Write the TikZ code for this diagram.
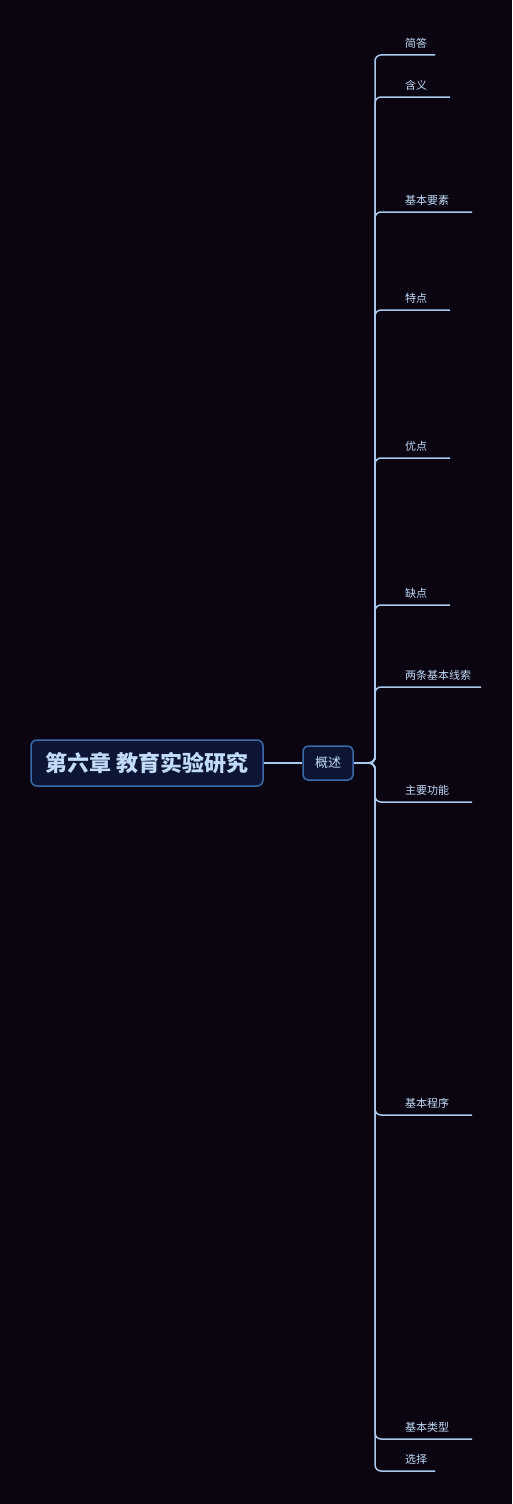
\documentclass[tikz,border=0pt]{standalone}
\usepackage{fontspec}
\setmainfont{Noto Sans CJK SC}
\definecolor{bg}{HTML}{0A0510}
\definecolor{rootfill}{HTML}{0D1536}
\definecolor{rootline}{HTML}{3A6AA8}
\definecolor{txt}{HTML}{C2DBF8}
\definecolor{ln}{HTML}{A9C9EE}
\tikzset{
  rootbox/.style={draw=rootline, fill=rootfill, line width=1.5pt, rounded corners=6pt, text=txt,
    minimum width=232pt, minimum height=46pt, inner sep=0pt, font=\fontsize{22}{26}\selectfont\bfseries},
  subbox/.style={draw=rootline, fill=rootfill, line width=1.5pt, rounded corners=5pt, text=txt,
    minimum width=50pt, minimum height=34pt, inner sep=0pt, font=\fontsize{13}{15}\selectfont},
  leaf/.style={text=txt, anchor=west, inner sep=0pt, font=\fontsize{11}{13}\selectfont},
  br/.style={draw=ln, line width=1.5pt, rounded corners=6pt},
  conn/.style={draw=ln, line width=1.5pt},
}
\begin{document}
\begin{tikzpicture}[x=1pt,y=-1pt]
\fill[bg] (0,0) rectangle (512,1504);
\useasboundingbox (0,0) rectangle (512,1504);
\node[rootbox] (r) at (147,763) {第六章\hspace{6pt}教育实验研究};
\node[subbox] (s) at (328,763) {概述};
\draw[conn] (r.east) -- (s.west);
\coordinate (j) at (369,763);
\draw[conn] (s.east) -- (j);
\foreach \n/\y/\e/\t in {1/55/435/简答, 2/97/450/含义, 3/212/472/基本要素, 4/310/450/特点, 5/458/450/优点, 6/605/450/缺点, 7/687/481/两条基本线索, 8/802/472/主要功能, 9/1115/472/基本程序, 10/1439/472/基本类型, 11/1471/435/选择}{
  \node[leaf] (c\n) at (405,\y-11.5) {\t};
  \coordinate (e\n) at (\e,\y);
  \draw[br] (j) -- ++(6,0) |- (e\n);
}
\end{tikzpicture}
\end{document}
